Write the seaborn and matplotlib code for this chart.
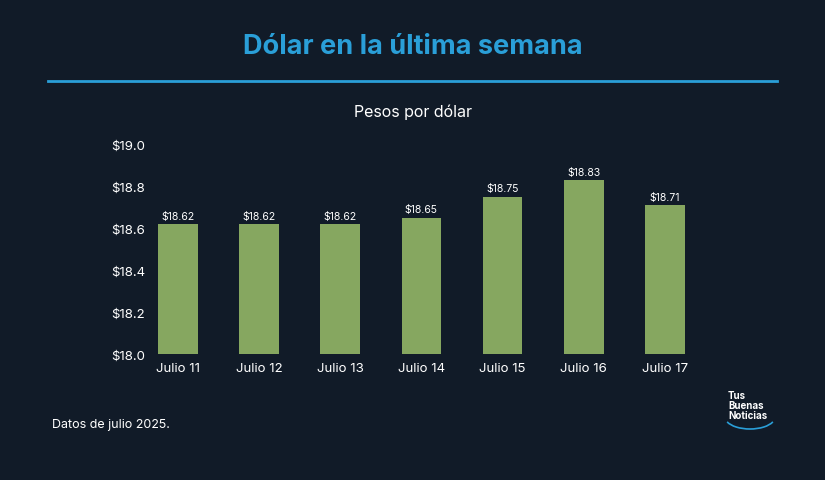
import matplotlib
matplotlib.use("Agg")
import matplotlib.pyplot as plt
from matplotlib.patches import Arc
import seaborn as sns
import pandas as pd

dias = ["Julio 11", "Julio 12", "Julio 13", "Julio 14", "Julio 15", "Julio 16", "Julio 17"]
valores = [18.62, 18.62, 18.62, 18.65, 18.75, 18.83, 18.71]
yticks = [18.0, 18.2, 18.4, 18.6, 18.8, 19.0]

plt.rcParams["font.family"] = "Inter"
bg = "#111b28"
W, H = 825, 481
fig = plt.figure(figsize=(W/100, H/100), dpi=100, facecolor=bg)
L, R, T, B = 155, 690, 145, 355
ax = fig.add_axes([L/W, 1-B/H, (R-L)/W, (B-T)/H])
ax.set_facecolor(bg)
df = pd.DataFrame({"d": dias, "v": valores})
sns.barplot(data=df, x="d", y="v", color="#86a760", saturation=1, width=0.49, ax=ax)
ax.set_ylim(18.0, 19.0)
ax.set_xlim(-0.283, 6.31)
ax.set_yticks(yticks)
ax.set_yticklabels([f"${t:.1f}" for t in yticks])
ax.set_xlabel(""); ax.set_ylabel("")
for s in ax.spines.values(): s.set_visible(False)
ax.tick_params(length=0, colors="white", labelsize=9.5)
ax.tick_params(axis="y", pad=7)
ax.tick_params(axis="x", pad=6)
for i, v in enumerate(valores):
    ax.text(i, v + 0.015, f"${v:.2f}", ha="center", va="bottom", color="white", fontsize=7.5)

fig.text(0.5, 1-47/H, "Dólar en la última semana", ha="center", va="center",
         color="#2a9fd8", fontsize=19.5, fontweight="bold")
fig.add_artist(plt.Line2D([48/W, 777/W], [1-82/H, 1-82/H], color="#2a9fd8", lw=2))
fig.text(0.5, 1-112/H, "Pesos por dólar", ha="center", va="center", color="white", fontsize=11.5)
fig.text(52/W, 1-425/H, "Datos de julio 2025.", ha="left", va="center", color="white", fontsize=9)
fig.text(728/W, 1-406/H, "Tus\nBuenas\nNoticias", ha="left", va="center", color="white",
         fontsize=7, fontweight="bold", linespacing=0.95)
arc = Arc((750/W, 1-418/H), 50/W, 24/H, theta1=200, theta2=340, color="#2a9fd8", lw=1.2,
          transform=fig.transFigure)
fig.add_artist(arc)
fig.savefig("out.png", dpi=100, facecolor=bg)
